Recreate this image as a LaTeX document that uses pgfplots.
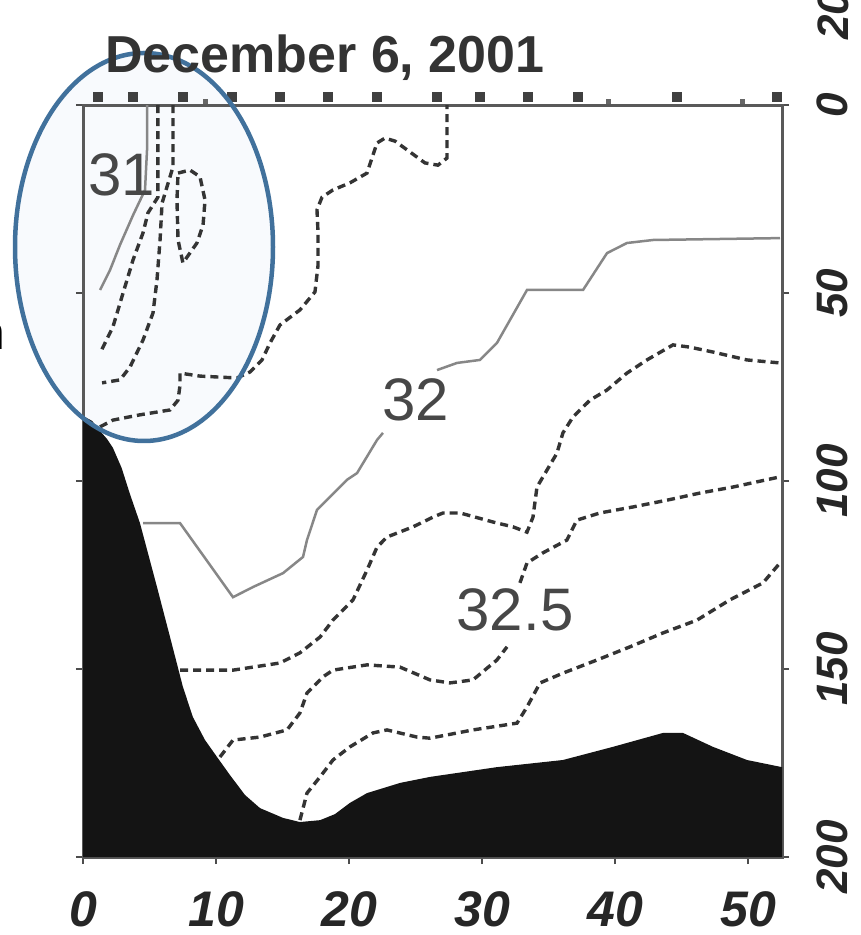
\documentclass[border=0pt]{standalone}
\usepackage{fontspec}
\setmainfont{Liberation Sans}
\usepackage{pgfplots}
\pgfplotsset{compat=1.18}
\definecolor{ovalblue}{RGB}{65,113,156}
\definecolor{ovalfill}{RGB}{248,250,253}
\definecolor{dashcol}{RGB}{52,52,52}
\definecolor{solidcol}{RGB}{135,135,135}
\begin{document}
\begin{tikzpicture}
\useasboundingbox (0,0) rectangle (860pt,935pt);
\fill[ovalfill] (144pt,688pt) ellipse [x radius=129pt, y radius=194pt];
\begin{axis}[
  at={(83pt,78pt)}, anchor=south west,
  scale only axis, width=699pt, height=752pt,
  xmin=0, xmax=52.52, ymin=0, ymax=200, y dir=reverse,
  xtick={0,10,20,30,40,50}, ytick={0,50,100,150,200},
  xtick pos=bottom, ytick pos=both, yticklabel pos=right,
  tick align=outside, major tick length=7pt,
  every tick/.style={draw=black!70, line width=2pt},
  axis line style={draw=black!65, line width=3pt},
  /pgf/number format/assume math mode=true,
  xticklabel style={font=\fontsize{50}{50}\selectfont\bfseries\itshape, text=black!85, anchor=north, inner sep=0pt, yshift=-27pt},
  yticklabel style={font=\fontsize{44}{44}\selectfont\bfseries\itshape, text=black!85, xshift=28pt, rotate=90, anchor=north, inner sep=0pt},
  clip=false,
]
% bathymetry
\addplot[fill=black!92, draw=none] coordinates {
 (0,82.7) (0.68,84.0) (1.28,86.7) (1.80,88.8) (2.25,91.2) (2.90,96.5) (3.53,103.5) (4.28,111.2)
 (5.56,128.2) (6.54,141.5) (7.51,154.8) (8.26,162.8) (9.17,168.9) (10.07,173.4)
 (11.04,178.2) (12.17,183.5) (13.30,187.0) (15.03,189.6) (16.30,190.7) (17.81,190.2)
 (18.93,188.6) (20.06,185.6) (21.34,183.0) (23.82,180.3) (26.07,178.7) (31.10,176.1)
 (36.06,174.2) (39.82,170.7) (43.58,167.0) (45.08,167.0) (47.33,170.7) (49.89,174.2)
 (52.52,176.1) (52.52,200) (0,200)} -- cycle;
% 31 solid
\addplot[solidcol, line width=2.5pt] coordinates {
 (4.81,0) (4.81,12.0) (4.66,22.6) (3.76,29.3) (2.78,37.2) (2.03,43.9) (1.28,49.2)};
% dashed A
\addplot[dashcol, line width=3.4pt, dash pattern=on 8pt off 5pt] coordinates {
 (5.63,0) (5.63,24.5) (4.88,28.7) (4.51,34.0) (3.76,41.2) (3.01,50.0) (2.25,59.0) (1.28,66.0)};
% dashed B
\addplot[dashcol, line width=3.4pt, dash pattern=on 8pt off 5pt] coordinates {
 (6.76,0) (6.76,16.5) (5.94,26.1) (5.79,35.9) (5.56,46.5) (5.26,55.3) (4.51,62.5) (3.53,69.7) (2.78,73.1) (1.43,73.9)};
% loop
\addplot[dashcol, line width=3.4pt, dash pattern=on 8pt off 5pt] coordinates {
 (7.14,18.1) (8.04,17.3) (8.79,19.1) (9.17,25.3) (9.02,31.9) (8.56,36.7) (7.51,42.0) (7.14,35.9) (7.06,25.3) (7.14,18.1)};
% dashed C
\addplot[dashcol, line width=3.4pt, dash pattern=on 8pt off 5pt] coordinates {
 (1.28,85.6) (2.25,83.8) (4.28,82.4) (6.54,81.1) (7.14,78.5) (7.29,74.5) (7.29,71.3)
 (8.79,72.1) (11.57,72.6) (12.55,71.0) (13.45,67.8) (14.05,63.3) (14.80,58.5) (16.30,54.5)
 (17.43,49.7) (17.66,42.6) (17.66,34.0) (17.58,27.9) (17.96,24.5) (18.78,22.6) (20.06,20.7)
 (21.34,18.1) (22.09,10.1) (22.69,8.8) (23.44,9.6) (24.57,12.5) (25.69,15.4) (26.67,16.0)
 (27.35,14.1) (27.35,0)};
% 32 solid
\addplot[solidcol, line width=2.5pt] coordinates {
 (4.51,111.2) (7.29,111.2) (11.27,130.9) (12.77,128.2) (15.03,124.5) (16.53,120.2)
 (16.83,115.7) (17.58,107.7) (19.83,99.7) (20.59,97.9) (22.09,89.1) (22.54,87.2)};
\addplot[solidcol, line width=2.5pt] coordinates {
 (26.60,70.5) (28.10,68.6) (29.83,67.8) (31.10,63.3) (33.36,49.2) (37.57,49.2)
 (39.37,39.4) (40.87,36.7) (42.83,35.9) (52.37,35.4)};
% dashed D
\addplot[dashcol, line width=3.4pt, dash pattern=on 8pt off 5pt] coordinates {
 (7.29,150.3) (11.27,150.3) (14.80,148.4) (16.30,145.7) (17.81,141.5) (18.78,137.0)
 (20.29,131.6) (21.34,123.7) (22.09,117.6) (22.84,114.9) (24.79,112.2) (26.30,109.6)
 (27.05,108.5) (28.32,108.5) (28.85,109.0) (30.80,110.9) (32.31,112.2) (33.36,113.6)
 (33.81,109.6) (34.11,101.6) (34.86,97.1) (35.61,92.6) (36.06,87.2) (36.81,83.0)
 (38.09,78.5) (39.37,75.8) (40.87,71.3) (42.37,67.8) (44.33,63.8) (45.60,64.4)
 (47.33,65.7) (49.89,67.8) (52.37,68.6)};
% dashed E
\addplot[dashcol, line width=3.4pt, dash pattern=on 8pt off 5pt] coordinates {
 (10.29,173.4) (11.27,168.9) (13.30,168.1) (15.33,166.2) (16.30,161.7) (16.83,156.4)
 (18.03,152.1) (18.78,150.3) (21.34,148.9) (23.82,149.5) (26.07,152.9) (27.57,153.7)
 (29.30,152.9) (31.10,147.6) (31.86,144.1)};
\addplot[dashcol, line width=3.4pt, dash pattern=on 8pt off 5pt] coordinates {
 (32.83,127.1) (33.36,121.8) (34.56,119.1) (36.36,115.7) (37.11,110.4) (38.84,108.5)
 (41.32,106.9) (43.88,105.1) (46.36,103.2) (48.84,101.6) (52.37,98.9)};
% dashed F
\addplot[dashcol, line width=3.4pt, dash pattern=on 8pt off 5pt] coordinates {
 (16.30,190.2) (16.83,183.0) (17.81,178.7) (18.78,174.2) (20.06,170.7) (21.79,167.0)
 (22.84,166.2) (25.09,168.1) (26.07,168.4) (29.30,166.2) (32.61,164.4) (33.36,160.1)
 (34.34,153.7) (36.06,151.1) (38.62,147.6) (41.10,144.1) (43.58,140.4) (46.13,137.0)
 (48.61,131.6) (51.09,127.1) (52.37,121.8)};
% station markers
\addplot[only marks, mark=square*, mark size=4.5pt, color=black!75] coordinates {
 (1.13,-2.1) (3.76,-2.1) (7.51,-2.1) (11.19,-2.1) (14.80,-2.1) (18.41,-2.1) (22.09,-2.1)
 (26.60,-2.1) (29.83,-2.1) (33.43,-2.1) (37.19,-2.1) (44.63,-2.1) (52.14,-2.1)};
\addplot[only marks, mark=square*, mark size=2.2pt, color=black!60] coordinates {
 (9.17,-1.0) (39.44,-1.0) (49.51,-1.0)};
% contour labels
\node[font=\fontsize{60}{60}\selectfont, text=black!72] at (axis cs:2.9,18.6) {31};
\node[font=\fontsize{60}{60}\selectfont, text=black!72] at (axis cs:25.02,78.5) {32};
\node[font=\fontsize{60}{60}\selectfont, text=black!72] at (axis cs:32.46,134.3) {32.5};
\end{axis}
\draw[ovalblue, line width=4.5pt] (144pt,688pt) ellipse [x radius=129pt, y radius=194pt];
\node[anchor=base west, inner sep=0pt, text=black!80, font=\fontsize{52}{60}\selectfont\bfseries] at (105pt,862pt) {December 6, 2001};
\node[rotate=90, anchor=west, inner sep=0pt, text=black!85, font=\fontsize{44}{44}\selectfont\bfseries\itshape] at (833pt,895pt) {200};
\node[anchor=base east, inner sep=0pt, font=\fontsize{48}{50}\selectfont] at (5pt,585pt) {n};
\end{tikzpicture}
\end{document}
